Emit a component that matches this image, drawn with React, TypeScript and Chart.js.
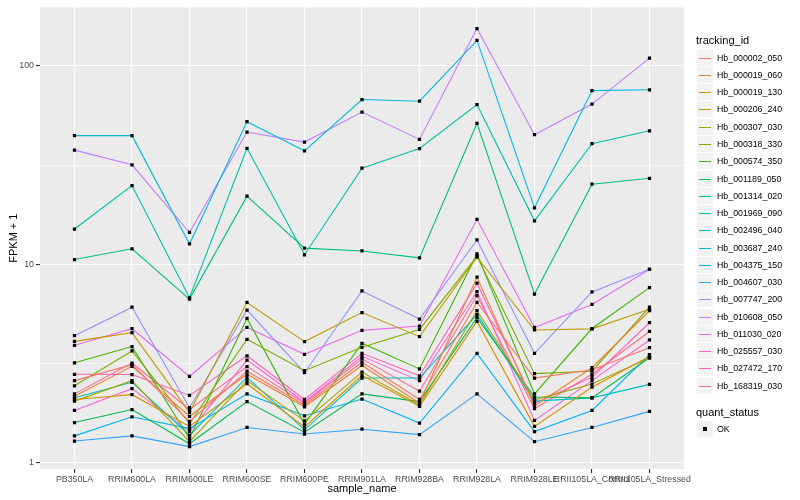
import React, { useEffect, useRef } from "react";
import { Chart, registerables } from "chart.js";

Chart.register(...registerables);

const FONT = '"Liberation Sans", Arial, Helvetica, sans-serif';

const categories = [
  "PB350LA",
  "RRIM600LA",
  "RRIM600LE",
  "RRIM600SE",
  "RRIM600PE",
  "RRIM901LA",
  "RRIM928BA",
  "RRIM928LA",
  "RRIM928LE",
  "RRII105LA_Control",
  "RRII105LA_Stressed",
];

const trackingIds = [
  "Hb_000002_050",
  "Hb_000019_060",
  "Hb_000019_130",
  "Hb_000206_240",
  "Hb_000307_030",
  "Hb_000318_330",
  "Hb_000574_350",
  "Hb_001189_050",
  "Hb_001314_020",
  "Hb_001969_090",
  "Hb_002496_040",
  "Hb_003687_240",
  "Hb_004375_150",
  "Hb_004607_030",
  "Hb_007747_200",
  "Hb_010608_050",
  "Hb_011030_020",
  "Hb_025557_030",
  "Hb_027472_170",
  "Hb_168319_030",
];

const seriesColors = [
  "#F8766D", "#EA8331", "#D89000", "#C09B00", "#A3A500",
  "#7CAE00", "#39B600", "#00BB4E", "#00BF7D", "#00C1A3",
  "#00BFC4", "#00BAE0", "#00B0F6", "#35A2FF", "#9590FF",
  "#C77CFF", "#E76BF3", "#FA62DB", "#FF62BC", "#FF6C91",
];

// FPKM + 1 values, one per category
const hb000002_050 = [2.6, 3.13, 1.62, 2.9, 1.96, 3.22, 2.09, 6.44, 2.68, 2.95, 3.81];
const hb000019_060 = [2.17, 3.07, 1.72, 2.8, 1.92, 3.1, 2.0, 8.63, 1.94, 3.02, 5.85];
const hb000019_130 = [2.09, 2.21, 1.53, 2.51, 1.52, 2.76, 1.93, 5.17, 1.53, 2.41, 3.44];
const hb000206_240 = [4.1, 4.54, 1.8, 6.44, 4.09, 5.73, 4.33, 10.9, 4.68, 4.74, 5.95];
const hb000307_030 = [2.05, 2.6, 1.28, 2.6, 1.63, 2.87, 1.96, 5.85, 2.08, 2.5, 3.39];
const hb000318_330 = [2.45, 3.67, 1.58, 4.2, 2.92, 3.83, 4.71, 11.0, 2.82, 2.9, 6.1];
const hb000574_350 = [3.2, 3.86, 1.33, 5.35, 1.57, 4.01, 2.98, 11.3, 2.23, 4.76, 7.65];
const hb001189_050 = [1.6, 1.86, 1.25, 2.04, 1.43, 2.23, 2.04, 5.4, 2.15, 2.13, 3.39];
const hb001314_020 = [10.6, 12.0, 6.7, 22.1, 12.1, 11.7, 10.8, 51.4, 7.1, 25.4, 27.2];
const hb001969_090 = [15.1, 25.0, 6.8, 38.5, 11.2, 30.6, 38.4, 64.0, 16.6, 40.6, 47.2];
const hb002496_040 = [2.13, 2.55, 1.38, 2.7, 1.47, 2.68, 2.68, 5.6, 2.05, 2.13, 2.49];
const hb003687_240 = [44.6, 44.6, 12.7, 52.4, 37.4, 67.8, 66.5, 134.6, 19.3, 75.2, 75.9];
const hb004375_150 = [1.37, 1.71, 1.49, 2.23, 1.73, 2.1, 1.59, 3.57, 1.44, 1.84, 3.52];
const hb004607_030 = [1.29, 1.37, 1.21, 1.51, 1.4, 1.48, 1.39, 2.23, 1.28, 1.51, 1.82];
const hb007747_200 = [4.38, 6.1, 1.9, 5.9, 2.85, 7.36, 5.31, 13.3, 3.57, 7.28, 9.46];
const hb010608_050 = [37.7, 31.8, 14.5, 46.5, 41.4, 58.6, 42.7, 154.5, 45.1, 64.3, 109.7];
const hb011030_020 = [3.92, 4.75, 2.73, 4.82, 3.53, 4.66, 4.9, 16.9, 4.82, 6.29, 9.46];
const hb025557_030 = [1.84, 2.37, 1.44, 3.3, 2.03, 3.45, 2.6, 7.31, 1.64, 2.6, 4.17];
const hb027472_170 = [2.8, 2.79, 2.19, 3.47, 2.09, 3.57, 2.75, 8.05, 2.0, 2.7, 5.09];
const hb168319_030 = [2.23, 3.19, 1.86, 3.06, 2.0, 3.35, 2.3, 6.98, 1.88, 2.8, 4.6];

const seriesValues = [
  hb000002_050, hb000019_060, hb000019_130, hb000206_240, hb000307_030,
  hb000318_330, hb000574_350, hb001189_050, hb001314_020, hb001969_090,
  hb002496_040, hb003687_240, hb004375_150, hb004607_030, hb007747_200,
  hb010608_050, hb011030_020, hb025557_030, hb027472_170, hb168319_030,
];

const yMajorTicks = [1, 10, 100];
const yMinorTicks = [3.1623, 31.623];
const yRange = [0.933, 197.7];

const isMajor = (v: number) => yMajorTicks.some((m) => Math.abs(m - v) < 1e-6);

export default function App() {
  const canvasRef = useRef<HTMLCanvasElement | null>(null);

  useEffect(() => {
    document.body.style.margin = "0";
    const canvas = canvasRef.current;
    if (!canvas) return;

    const panelBg = {
      id: "panelBg",
      beforeDraw(chart: any) {
        const { ctx, chartArea } = chart;
        ctx.save();
        ctx.fillStyle = "#EBEBEB";
        ctx.fillRect(chartArea.left, chartArea.top, chartArea.right - chartArea.left, chartArea.bottom - chartArea.top);
        ctx.restore();
      },
    };

    const lineSets = trackingIds.map((id, k) => ({
      type: "line" as const,
      label: id,
      data: categories.map((c, i) => ({ x: i, y: seriesValues[k][i] })),
      borderColor: seriesColors[k],
      backgroundColor: seriesColors[k],
      borderWidth: 1.1,
      pointRadius: 0,
      fill: false,
      tension: 0,
      order: 2,
    }));
    const pointSets = trackingIds.map((id, k) => ({
      type: "line" as const,
      label: id + " OK",
      data: categories.map((c, i) => ({ x: i, y: seriesValues[k][i] })),
      showLine: false,
      pointStyle: "rect",
      pointRadius: 2.3,
      pointBackgroundColor: "#000",
      pointBorderWidth: 0,
      order: 1,
    }));

    const chart = new Chart(canvas, {
      type: "line",
      data: { datasets: [...lineSets, ...pointSets] as any },
      options: {
        animation: false,
        responsive: false,
        devicePixelRatio: 1,
        layout: { padding: { top: 5, right: 116, left: 0, bottom: 0 } },
        plugins: { legend: { display: false }, tooltip: { enabled: false } },
        scales: {
          x: {
            type: "linear",
            min: -0.6,
            max: 10.6,
            afterBuildTicks: (s: any) => {
              s.ticks = categories.map((c, i) => ({ value: i }));
            },
            afterFit: (s: any) => {
              s.height = 31;
            },
            grid: {
              color: "#FFFFFF",
              lineWidth: 1.1,
              drawTicks: true,
              tickLength: 4,
              tickColor: "#333333",
              tickWidth: 1.1,
            },
            border: { display: false },
            ticks: {
              autoSkip: false,
              maxRotation: 0,
              minRotation: 0,
              padding: 1,
              color: "#4D4D4D",
              font: { family: FONT, size: 8.8 },
              callback: (v: any) => categories[v as number] ?? "",
            },
            title: {
              display: true,
              text: "sample_name",
              color: "#000000",
              font: { family: FONT, size: 11 },
              padding: { top: 0, bottom: 4 },
            },
          },
          y: {
            type: "logarithmic",
            min: yRange[0],
            max: yRange[1],
            afterBuildTicks: (s: any) => {
              s.ticks = [...yMajorTicks, ...yMinorTicks].sort((a, b) => a - b).map((v) => ({ value: v }));
            },
            afterFit: (s: any) => {
              s.width = 40;
            },
            grid: {
              color: "#FFFFFF",
              lineWidth: (c: any) => (isMajor(c.tick.value) ? 1.1 : 0.55),
              drawTicks: true,
              tickLength: 4,
              tickColor: (c: any) => (isMajor(c.tick.value) ? "#333333" : "rgba(0,0,0,0)"),
              tickWidth: 1.1,
            },
            border: { display: false },
            ticks: {
              autoSkip: false,
              padding: 2,
              color: "#4D4D4D",
              font: { family: FONT, size: 8.8 },
              callback: (v: any) => (isMajor(Number(v)) ? String(v) : ""),
            },
            title: {
              display: true,
              text: "FPKM + 1",
              color: "#000000",
              font: { family: FONT, size: 11 },
              padding: { top: 7, bottom: 0 },
            },
          },
        },
      },
      plugins: [panelBg],
    } as any);

    return () => chart.destroy();
  }, []);

  const rowY = (k: number) => Math.round(57.7 + k * 17.26);

  return (
    <div style={{ position: "relative", width: 800, height: 500, fontFamily: FONT }}>
      <canvas ref={canvasRef} width={800} height={500} style={{ display: "block" }} />
      <div style={{ position: "absolute", left: 696, top: 33, fontSize: 11, lineHeight: "14px", color: "#000", whiteSpace: "nowrap" }}>
        tracking_id
      </div>
      {trackingIds.map((id, k) => (
        <React.Fragment key={id}>
          <div style={{ position: "absolute", left: 697, top: rowY(k) - 8, width: 16, height: 16, background: "#F2F2F2" }} />
          <div style={{ position: "absolute", left: 699, top: rowY(k), width: 12, height: 1, background: seriesColors[k] }} />
          <div style={{ position: "absolute", left: 717, top: rowY(k) - 6, fontSize: 8.8, lineHeight: "12px", color: "#000", whiteSpace: "nowrap" }}>
            {id}
          </div>
        </React.Fragment>
      ))}
      <div style={{ position: "absolute", left: 696, top: 405, fontSize: 11, lineHeight: "14px", color: "#000", whiteSpace: "nowrap" }}>
        quant_status
      </div>
      <div style={{ position: "absolute", left: 697, top: 421, width: 16, height: 16, background: "#F2F2F2" }} />
      <div style={{ position: "absolute", left: 703, top: 427, width: 4, height: 4, background: "#000" }} />
      <div style={{ position: "absolute", left: 717, top: 423, fontSize: 8.8, lineHeight: "12px", color: "#000", whiteSpace: "nowrap" }}>
        OK
      </div>
    </div>
  );
}
